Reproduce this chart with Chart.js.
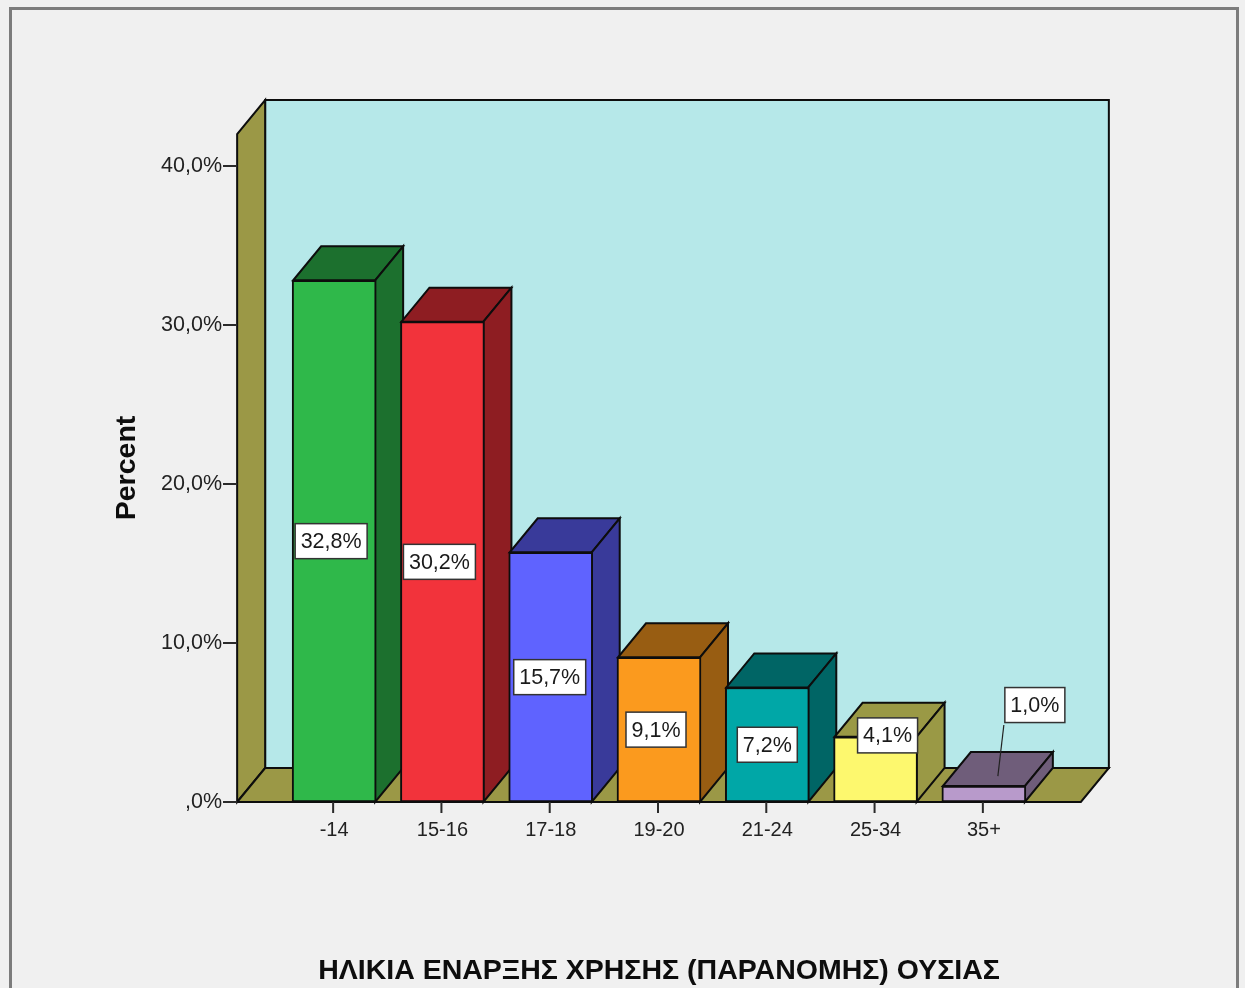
<!DOCTYPE html>
<html><head><meta charset="utf-8">
<style>html,body{margin:0;padding:0;background:#f0f0f0;overflow:hidden}#w{width:1245px;height:988px}canvas{display:block;filter:blur(0.45px)}</style>
<script src="https://cdn.jsdelivr.net/npm/chart.js@4/dist/chart.umd.min.js"></script>
</head><body><div id="w"><canvas id="c" width="1245" height="988"></canvas></div>
<script>
const categories = ['-14','15-16','17-18','19-20','21-24','25-34','35+'];
const percentValues = [32.8,30.2,15.7,9.1,7.2,4.1,1.0];
const frontColors = ['#2fb84a','#f2333b','#5f63ff','#fb9a1e','#00a7a7','#fdf86e','#b89acb'];
const sideColors = ['#1c702e','#8e1d22','#393a9a','#985d12','#006565','#9a9945','#6f5d7a'];
const xTitle = 'ΗΛΙΚΙΑ ΕΝΑΡΞΗΣ ΧΡΗΣΗΣ (ΠΑΡΑΝΟΜΗΣ) ΟΥΣΙΑΣ';
const yTitle = 'Percent';
const yTicks = [0,10,20,30,40];

const fmt = v => (v===0 ? ',0' : v.toFixed(1).replace('.',','))+'%';
const DX=28, DY=-34, OLIVE='#9b9846', WALL='#b6e8e9', INK='#0d0d0d';
const labelOffsets=[[-3,0],[-3,0],[-1,0],[-3,0],[0,0],[12,-34],[51,-89]];
function poly(ctx,pts,fill,lw){ctx.beginPath();pts.forEach((p,i)=>i?ctx.lineTo(p[0],p[1]):ctx.moveTo(p[0],p[1]));ctx.closePath();
 if(fill){ctx.fillStyle=fill;ctx.fill();}ctx.lineWidth=lw||2;ctx.strokeStyle=INK;ctx.lineJoin='miter';ctx.stroke();}
const box3d={id:'box3d',
 beforeDraw(ch){const c=ch.ctx;c.save();c.fillStyle='#f0f0f0';c.fillRect(0,0,1245,988);
  c.strokeStyle='#7c7c7c';c.lineWidth=3;c.beginPath();c.moveTo(10.5,995);c.lineTo(10.5,8.5);c.lineTo(1237.5,8.5);c.lineTo(1237.5,995);c.stroke();c.restore();},
 beforeDatasetsDraw(ch){const c=ch.ctx,{x,y}=ch.scales;c.save();
  const y0=y.getPixelForValue(0),yT=y.getPixelForValue(42);
  const L=x.getPixelForValue(0)-97,R=x.getPixelForValue(6)+97;
  poly(c,[[L+DX,yT+DY],[R+DX,yT+DY],[R+DX,y0+DY],[L+DX,y0+DY]],WALL);
  poly(c,[[L,y0],[L+DX,y0+DY],[L+DX,yT+DY],[L,yT]],OLIVE);
  poly(c,[[L,y0],[R,y0],[R+DX,y0+DY],[L+DX,y0+DY]],OLIVE);
  c.strokeStyle='#2a2a2a';c.lineWidth=2;c.beginPath();
  yTicks.forEach(v=>{const p=Math.round(y.getPixelForValue(v))+.0;c.moveTo(223,p);c.lineTo(L,p);});
  categories.forEach((n,i)=>{const p=x.getPixelForValue(i)-1;c.moveTo(p,y0);c.lineTo(p,y0+11);});
  c.stroke();
  ch.getDatasetMeta(0).data.forEach((b,i)=>{const h=b.width/2-1,l=b.x-h,r=b.x+h,t=b.y,bo=b.base;
    poly(c,[[l,t],[r,t],[r+DX,t+DY],[l+DX,t+DY]],sideColors[i]);
    poly(c,[[r,t],[r+DX,t+DY],[r+DX,bo+DY],[r,bo]],sideColors[i]);});
  c.restore();},
 afterDatasetsDraw(ch){const c=ch.ctx,{x,y}=ch.scales;c.save();
  c.font='21.5px "Liberation Sans"';c.textAlign='center';c.textBaseline='middle';
  percentValues.forEach((v,i)=>{const s=fmt(v),w=c.measureText(s).width+11,h=35;
   const cx=x.getPixelForValue(i)+labelOffsets[i][0],cy=y.getPixelForValue(v/2)+labelOffsets[i][1];
   if(i===6){c.strokeStyle='#222';c.lineWidth=1.2;c.beginPath();c.moveTo(cx-31,cy+20);c.lineTo(x.getPixelForValue(i)+14,y.getPixelForValue(v)+DY+24);c.stroke();}
   c.fillStyle='#fff';c.fillRect(cx-w/2,cy-h/2,w,h);c.strokeStyle='#333';c.lineWidth=1.5;c.strokeRect(cx-w/2,cy-h/2,w,h);
   c.fillStyle='#1a1a1a';c.fillText(s,cx,cy+1);});
  c.restore();}
};
new Chart(document.getElementById('c'),{type:'bar',
 data:{labels:categories,datasets:[{data:percentValues,backgroundColor:frontColors,borderColor:INK,borderWidth:2,borderSkipped:false,barThickness:84}]},
 plugins:[box3d],
 options:{responsive:false,animation:false,
  layout:{padding:{top:134,right:207,left:0,bottom:0}},
  plugins:{legend:{display:false},tooltip:{enabled:false},title:{display:false}},
  scales:{
   x:{grid:{display:false,drawTicks:false},border:{display:false},
    ticks:{color:'#222',font:{family:'Liberation Sans',size:20},padding:16,maxRotation:0,autoSkip:false},
    title:{display:true,text:xTitle,color:'#0d0d0d',font:{family:'Liberation Sans',size:28.5,weight:'bold'},padding:{top:0,bottom:0}},
    afterFit(s){s.height=186;},
    },
   y:{min:0,max:42,grid:{display:false,drawTicks:false},border:{display:false},
    afterBuildTicks(s){s.ticks=yTicks.map(v=>({value:v}));},
    afterFit(s){s.width=280;},
    ticks:{color:'#222',font:{family:'Liberation Sans',size:21.5},padding:58,callback:v=>fmt(v)},
    title:{display:true,text:yTitle,color:'#0d0d0d',font:{family:'Liberation Sans',size:28.5,weight:'bold'},padding:{top:110,bottom:0}}
   }
  }
 }});
</script></body></html>
